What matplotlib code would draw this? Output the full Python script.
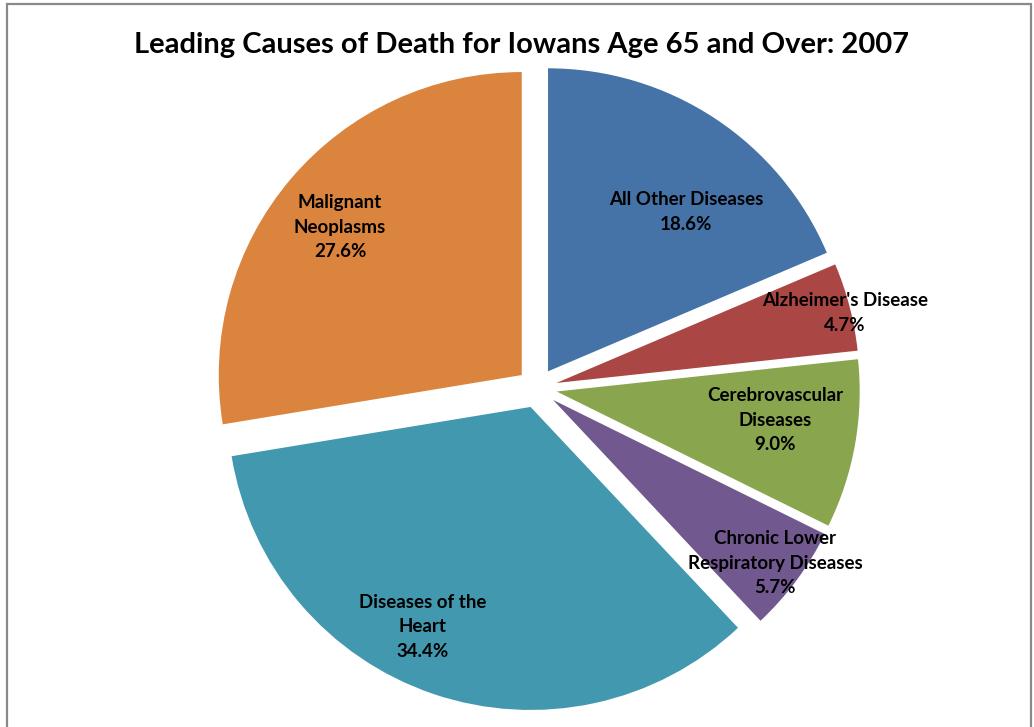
import matplotlib.pyplot as plt
from matplotlib.patches import Rectangle

# data
causes = ["All Other Diseases", "Alzheimer's Disease", "Cerebrovascular\nDiseases",
          "Chronic Lower\nRespiratory Diseases", "Diseases of the\nHeart", "Malignant\nNeoplasms"]
shares = [18.6, 4.7, 9.0, 5.7, 34.4, 27.6]
colors = ["#4572A7", "#AA4643", "#89A54E", "#71588F", "#4198AF", "#DB843D"]

# label anchor points in pixel space (from top-left)
label_pos = [(686, 212), (845, 313), (775, 420), (775, 563), (423, 627), (340, 227)]

W, H = 1034, 727
plt.rcParams['font.family'] = ['Lato', 'DejaVu Sans']

fig = plt.figure(figsize=(W / 100, H / 100), dpi=100)
ax = fig.add_axes([0, 0, 1, 1])

cx, cy, r = 537, H - 388, 303
# explode is in data units (pixels here)
ax.pie(shares, colors=colors, startangle=90, counterclock=False,
       explode=[20] * len(shares), center=(cx, cy), radius=r,
       wedgeprops=dict(linewidth=0), frame=True)
ax.set_xlim(0, W)
ax.set_ylim(0, H)
ax.set_aspect('equal')
ax.axis('off')

for name, val, (x, y) in zip(causes, shares, label_pos):
    ax.text(x, H - y, f"{name}\n{val:.1f}%", ha='center', va='center',
            fontsize=13.5, fontweight='bold', linespacing=1.55, color='black')

ax.text(522, H - 45, "Leading Causes of Death for Iowans Age 65 and Over: 2007",
        ha='center', va='center', fontsize=21, fontweight='bold')

ax.add_patch(Rectangle((7, -10), 1024, H - 4 + 10, fill=False, edgecolor='#898989', linewidth=1.6))

fig.savefig("out.png", dpi=100)
